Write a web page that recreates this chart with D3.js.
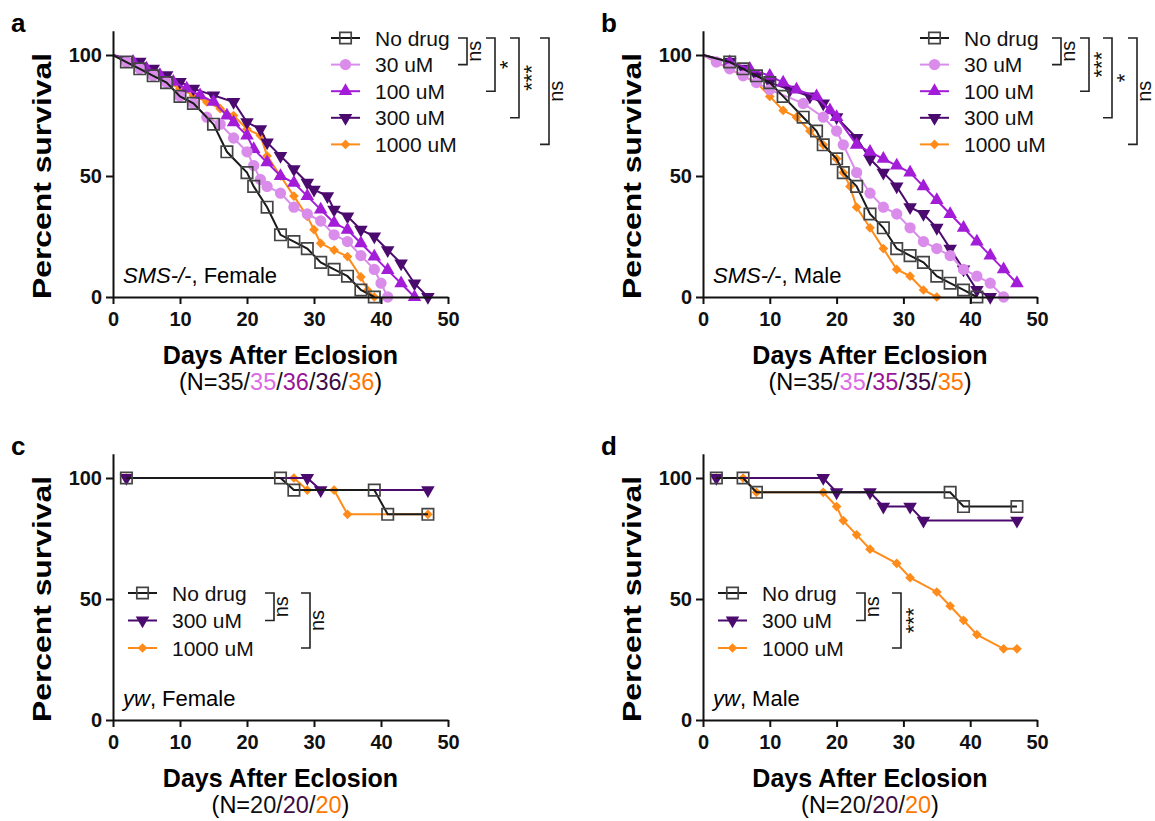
<!DOCTYPE html>
<html>
<head>
<meta charset="utf-8">
<script src="https://cdn.jsdelivr.net/npm/d3@7"></script>
<style>
  body { margin: 0; background: #fff; }
  svg { display: block; font-family: "Liberation Sans", Arial, Helvetica, sans-serif; }
</style>
</head>
<body>
<script>
// ---- datos: [día, % supervivencia] ----
const xTicks = [0, 10, 20, 30, 40, 50]
const yTicks = [0, 50, 100]

// a: SMS-/-, hembras
const a_noDrug = [[0,100],[2,97.1],[4,94.3],[6,91.4],[8,88.6],[10,82.9],[12,80],[15,71.4],[17,60],[20,51.4],[21,45.7],[23,37.1],[25,25.7],[27,22.9],[29,20],[31,14.3],[33,11.4],[35,8.6],[37,2.9],[39,0]]
const a_30 = [[0,100],[2,97.1],[4,94.3],[6,91.4],[8,88.6],[10,82.9],[12,80],[14,74.3],[16,71.4],[18,65.7],[20,60],[21,54.3],[22,48.6],[23,45.7],[25,42.9],[27,37.1],[29,34.3],[31,31.4],[33,25.7],[35,22.9],[37,17.1],[39,11.4],[40,5.7],[41,0]]
const a_100 = [[0,100],[3,97.2],[5,94.4],[7,91.7],[9,88.9],[11,86.1],[13,83.3],[15,80.6],[17,75],[18,72.2],[20,66.7],[21,61.1],[23,55.6],[25,50],[27,47.2],[29,41.7],[31,36.1],[33,30.6],[35,27.8],[37,22.2],[39,16.7],[41,11.1],[43,5.6],[45,0]]
const a_300 = [[0,100],[4,97.2],[6,94.4],[8,91.7],[10,88.9],[12,86.1],[15,83.3],[18,80.6],[20,72.2],[22,69.4],[23,63.9],[25,58.3],[27,52.8],[29,47.2],[30,44.4],[32,41.7],[33,36.1],[35,33.3],[37,27.8],[39,25],[41,19.4],[43,13.9],[45,5.6],[47,0]]
const a_1000 = [[0,100],[2,97.2],[4,94.4],[6,91.7],[8,88.9],[10,86.1],[12,83.3],[14,80.6],[16,77.8],[18,75],[20,69.4],[22,66.7],[23,58.3],[25,50],[27,41.7],[29,33.3],[30,27.8],[31,22.2],[33,19.4],[35,16.7],[37,8.3],[38,2.8],[39,0]]

// b: SMS-/-, machos
const b_noDrug = [[0,100],[4,97.1],[6,94.3],[8,91.4],[10,88.6],[12,82.9],[15,74.3],[17,68.6],[18,62.9],[20,57.1],[21,51.4],[23,45.7],[25,34.3],[27,28.6],[29,20],[31,17.1],[33,14.3],[35,8.6],[37,5.7],[39,2.9],[41,0]]
const b_30 = [[0,100],[2,97.1],[4,94.3],[6,91.4],[8,88.6],[10,85.7],[15,80],[18,74.3],[20,68.6],[21,62.9],[23,51.4],[25,42.9],[27,37.1],[29,34.3],[31,28.6],[33,22.9],[35,20],[37,17.1],[39,11.4],[41,8.6],[43,5.7],[45,0]]
const b_100 = [[0,100],[4,97.1],[7,94.3],[10,91.4],[12,88.6],[14,85.7],[17,82.9],[19,77.1],[20,74.3],[23,62.9],[25,60],[27,57.1],[29,54.3],[31,51.4],[33,45.7],[35,40],[37,34.3],[39,28.6],[41,22.9],[43,17.1],[45,11.4],[47,5.7]]
const b_300 = [[0,100],[4,97.1],[6,94.3],[8,91.4],[10,88.6],[13,85.7],[16,82.9],[18,80],[20,74.3],[23,65.7],[25,57.1],[27,51.4],[29,45.7],[31,37.1],[33,34.3],[35,28.6],[37,20],[39,11.4],[41,2.9],[43,0]]
const b_1000 = [[0,100],[2,97.1],[4,94.3],[6,91.4],[8,88.6],[10,82.9],[12,77.1],[14,74.3],[16,68.6],[18,62.9],[20,57.1],[21,51.4],[22,45.7],[23,37.1],[25,28.6],[27,20],[29,11.4],[31,8.6],[33,2.9],[35,0]]

// c: yw, hembras
const c_noDrug = [[2,100],[25,100],[27,95],[39,95],[41,85],[47,85]]
const c_300 = [[2,100],[29,100],[31,95],[47,95]]
const c_1000 = [[2,100],[27,100],[29,95],[33,95],[35,85],[47,85]]

// d: yw, machos
const d_noDrug = [[2,100],[6,100],[8,94.1],[37,94.1],[39,88.2],[47,88.2]]
const d_300 = [[2,100],[18,100],[20,94.1],[25,94.1],[27,88.2],[31,88.2],[33,82.4],[47,82.4]]
const d_1000 = [[2,100],[6,100],[8,94.1],[18,94.1],[20,88.2],[21,82.4],[23,76.5],[25,70.6],[29,64.7],[31,58.8],[35,52.9],[37,47.1],[39,41.2],[41,35.3],[45,29.4],[47,29.4]]

const nA = ["35","35","36","36","36"]
const nB = ["35","35","35","35","35"]
const nC = ["20","20","20"]
const nD = ["20","20","20"]

// ---- estilos de cada grupo ----
const estilo = {
    "No drug": { color: "#1a1a1a", sym: "square", nColor: "#111" },
    "30 uM":   { color: "#DA8CEB", sym: "circle", nColor: "#DB6BE6" },
    "100 uM":  { color: "#A31CD8", sym: "tri",    nColor: "#9A1598" },
    "300 uM":  { color: "#4B0B6E", sym: "triDown", nColor: "#3E0B45" },
    "1000 uM": { color: "#FF8C1A", sym: "diamond", nColor: "#FF7700" }
}

const svg = d3.select("body").append("svg")
    .attr("width", 1155)
    .attr("height", 821)

function marcador(sel, tipo, color) {        // dibuja un marcador centrado en 0,0
    const tipos = {
        square: [d3.symbolSquare, 130],
        circle: [d3.symbolCircle, 100],
        tri: [d3.symbolTriangle, 80],
        triDown: [d3.symbolTriangle, 80],
        diamond: [d3.symbolDiamond2 || d3.symbolDiamond, 60]
    }
    const t = tipos[tipo]
    const p = sel.append("path").attr("d", d3.symbol().type(t[0]).size(t[1])())
    if (tipo === "square") p.attr("fill", "none").attr("stroke", "#444").attr("stroke-width", 1.7)
    else p.attr("fill", color)
    if (tipo === "triDown") p.attr("transform", "rotate(180)")
    return p
}

function panel(p) {
    const x = d3.scaleLinear().domain([0, 50]).range([p.left, p.right])
    const k = (p.bottom - p.top100) / 100
    const y = d3.scaleLinear().domain([0, 110]).range([p.bottom, p.bottom - 110 * k])

    const g = svg.append("g")

    // curvas (la de control encima)
    p.series.slice().reverse().forEach(s => {
        const e = estilo[s.name]
        g.append("path")
            .datum(s.data)
            .attr("fill", "none")
            .attr("stroke", e.color)
            .attr("stroke-width", 2)
            .attr("d", d3.line().x(d => x(d[0])).y(d => y(d[1])))
        g.selectAll(null)
            .data(s.data.filter(d => d[0] > 0))
            .enter()
            .append("g")
            .attr("transform", d => "translate(" + x(d[0]) + "," + y(d[1]) + ")")
            .each(function() { marcador(d3.select(this), e.sym, e.color) })
    })

    // ejes
    const ax = g.append("g")
        .attr("transform", "translate(0," + p.bottom + ")")
        .call(d3.axisBottom(x).tickValues(xTicks).tickSize(7).tickSizeOuter(0).tickPadding(8))
    const ay = g.append("g")
        .attr("transform", "translate(" + p.left + ",0)")
        .call(d3.axisLeft(y).tickValues(yTicks).tickSize(7).tickSizeOuter(0).tickPadding(4))
    ;[ax, ay].forEach(a => {
        a.selectAll("path, line").attr("stroke", "#111").attr("stroke-width", 2)
        a.selectAll("text").attr("fill", "#111").style("font-size", "20px").style("font-weight", "bold")
        a.attr("font-family", null)
    })

    // títulos
    const cx = (p.left + p.right) / 2
    g.append("text")
        .attr("x", cx).attr("y", p.bottom + 67)
        .attr("text-anchor", "middle")
        .style("font-size", "25px").style("font-weight", "bold")
        .text("Days After Eclosion")
    g.append("text")
        .attr("transform", "translate(" + (p.left - 62) + "," + ((p.bottom + p.top100) / 2) + ") rotate(-90)")
        .attr("text-anchor", "middle")
        .attr("textLength", 246)
        .attr("lengthAdjust", "spacingAndGlyphs")
        .style("font-size", "26px").style("font-weight", "bold")
        .text("Percent survival")

    const nt = g.append("text")
        .attr("x", cx).attr("y", p.bottom + 93)
        .attr("text-anchor", "middle")
        .style("font-size", "23.5px")
    nt.append("tspan").text("(N=")
    p.n.forEach((v, i) => {
        if (i > 0) nt.append("tspan").attr("fill", "#111").text("/")
        nt.append("tspan").attr("fill", estilo[p.series[i].name].nColor).text(v)
    })
    nt.append("tspan").text(")")

    // letra del panel
    g.append("text")
        .attr("x", p.left - 102).attr("y", p.top100 - 23)
        .style("font-size", "26px").style("font-weight", "bold")
        .text(p.letter)

    // cepa y sexo
    const st = g.append("text")
        .attr("x", p.left + 10).attr("y", p.bottom - 14)
        .style("font-size", "22px")
    st.append("tspan").style("font-style", "italic").text(p.strain)
    st.append("tspan").text(", " + p.sex)

    // leyenda
    const rowY = i => p.legY + i * p.legDy
    p.series.forEach((s, i) => {
        const e = estilo[s.name]
        const r = g.append("g").attr("transform", "translate(" + p.legX + "," + rowY(i) + ")")
        r.append("line").attr("x1", 0).attr("x2", 29).attr("stroke", e.color).attr("stroke-width", 2)
        marcador(r.append("g").attr("transform", "translate(14.5,0)"), e.sym, e.color)
        r.append("text").attr("x", 44).attr("y", 7.5).style("font-size", "21px").attr("fill", "#111").text(s.name)
    })

    // corchetes de significación
    p.brackets.forEach(b => {
        const y1 = rowY(0), y2 = rowY(b.to)
        g.append("path")
            .attr("d", "M" + (b.x - 9) + "," + y1 + "H" + b.x + "V" + y2 + "H" + (b.x - 9))
            .attr("fill", "none").attr("stroke", "#222").attr("stroke-width", 1.6)
        const ast = b.label !== "ns"
        g.append("text")
            .attr("transform", "translate(" + (b.x + (ast ? 20 : 14)) + "," + ((y1 + y2) / 2) + ") rotate(-90)")
            .attr("text-anchor", "middle")
            .style("font-size", ast ? "22px" : "20px")
            .attr("fill", "#111")
            .text(b.label)
    })
}

const cincoGrupos = d => [
    { name: "No drug", data: d[0] }, { name: "30 uM", data: d[1] }, { name: "100 uM", data: d[2] },
    { name: "300 uM", data: d[3] }, { name: "1000 uM", data: d[4] }
]
const tresGrupos = d => [
    { name: "No drug", data: d[0] }, { name: "300 uM", data: d[1] }, { name: "1000 uM", data: d[2] }
]

panel({
    letter: "a", left: 113, right: 448, bottom: 297, top100: 55,
    series: cincoGrupos([a_noDrug, a_30, a_100, a_300, a_1000]), n: nA,
    strain: "SMS-/-", sex: "Female",
    legX: 331, legY: 38, legDy: 26.6,
    brackets: [{ to: 1, x: 467, label: "ns" }, { to: 2, x: 495, label: "*" }, { to: 3, x: 519, label: "***" }, { to: 4, x: 549, label: "ns" }]
})
panel({
    letter: "b", left: 703, right: 1037, bottom: 297, top100: 55,
    series: cincoGrupos([b_noDrug, b_30, b_100, b_300, b_1000]), n: nB,
    strain: "SMS-/-", sex: "Male",
    legX: 920, legY: 38, legDy: 26.6,
    brackets: [{ to: 1, x: 1061, label: "ns" }, { to: 2, x: 1089, label: "***" }, { to: 3, x: 1112, label: "*" }, { to: 4, x: 1137, label: "ns" }]
})
panel({
    letter: "c", left: 113, right: 448, bottom: 720, top100: 478,
    series: tresGrupos([c_noDrug, c_300, c_1000]), n: nC,
    strain: "yw", sex: "Female",
    legX: 128, legY: 593, legDy: 27.5,
    brackets: [{ to: 1, x: 274, label: "ns" }, { to: 2, x: 310, label: "ns" }]
})
panel({
    letter: "d", left: 703, right: 1037, bottom: 720, top100: 478,
    series: tresGrupos([d_noDrug, d_300, d_1000]), n: nD,
    strain: "yw", sex: "Male",
    legX: 718, legY: 593, legDy: 27.5,
    brackets: [{ to: 1, x: 865, label: "ns" }, { to: 2, x: 901, label: "***" }]
})
</script>
</body>
</html>
